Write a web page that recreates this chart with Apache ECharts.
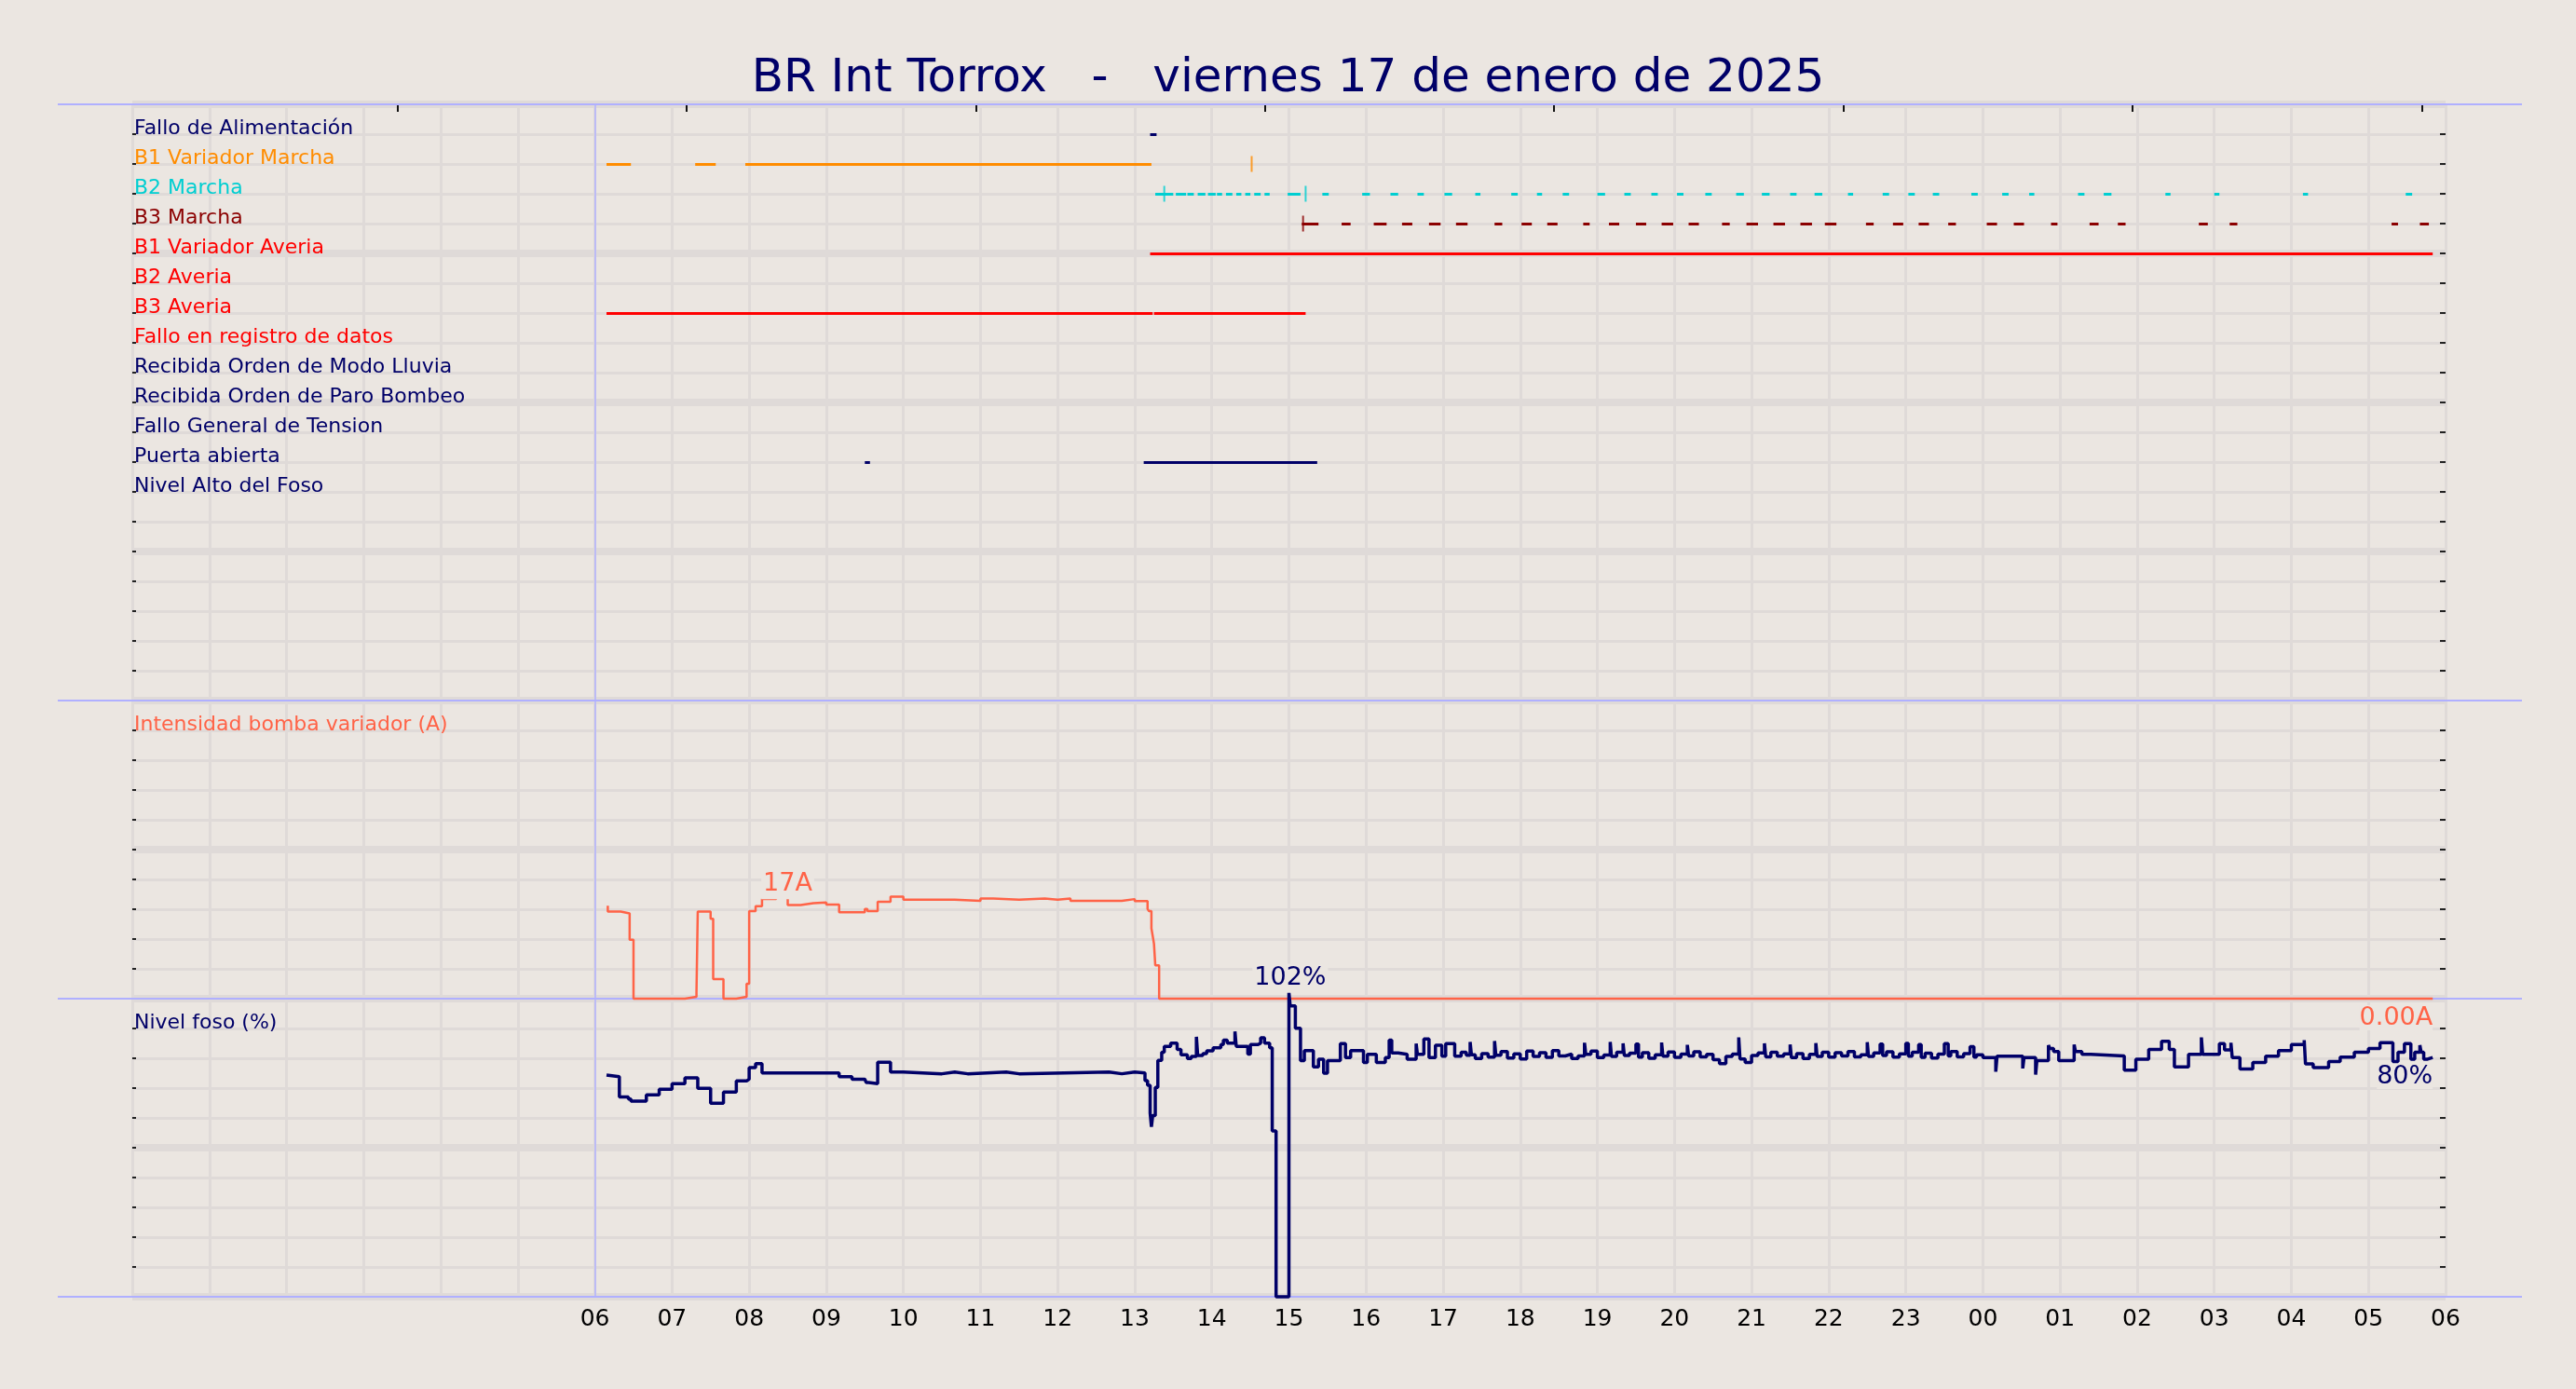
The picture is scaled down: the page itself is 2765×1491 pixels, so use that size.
<!DOCTYPE html>
<html><head><meta charset="utf-8">
<script src="https://cdn.jsdelivr.net/npm/echarts@6/dist/echarts.min.js"></script>
<style>html,body{margin:0;padding:0;background:#ebe6e1;}#c{width:2765px;height:1491px;}</style>
</head><body><div id="c"></div>
<script>
// ---------------- DATA ----------------
const titleText = 'BR Int Torrox   -   viernes 17 de enero de 2025';
const rowNames = ['Fallo de Alimentación','B1 Variador Marcha','B2 Marcha','B3 Marcha','B1 Variador Averia','B2 Averia','B3 Averia','Fallo en registro de datos','Recibida Orden de Modo Lluvia','Recibida Orden de Paro Bombeo','Fallo General de Tension','Puerta abierta','Nivel Alto del Foso'];
const intensityName = 'Intensidad bomba variador (A)';
const levelName = 'Nivel foso (%)';
const xTickLabels = ['06','07','08','09','10','11','12','13','14','15','16','17','18','19','20','21','22','23','00','01','02','03','04','05','06'];
const topTickHours = [3.44, 7.19, 10.94, 14.69, 18.44, 22.19, 25.94, 29.69];
const dayStart = '06:00';

const segAlimentacion = [['13:12','13:17']];
const segB1Marcha = [['06:09','06:28'],['07:18','07:34'],['07:57','13:13']];
const tickB1Marcha = ['14:31'];
const segB2Marcha = [['13:16','13:30'],['13:32','13:40'],['13:41','13:46'],['13:49','13:55'],['13:57','14:03'],['14:04','14:08'],['14:11','14:16'],['14:19','14:23'],['14:26','14:30'],['14:33','14:38'],['14:41','14:45'],['14:59','15:09'],['15:26','15:31'],['15:57','16:03'],['16:19','16:25'],['16:40','16:45'],['17:01','17:07'],['17:25','17:29'],['17:53','17:58'],['18:13','18:17'],['18:33','18:38'],['19:00','19:06'],['19:21','19:26'],['19:42','19:47'],['20:02','20:07'],['20:24','20:29'],['20:48','20:54'],['21:08','21:14'],['21:30','21:35'],['21:49','21:55'],['22:15','22:19'],['22:42','22:47'],['23:02','23:07'],['23:21','23:26'],['23:51','23:56'],['00:15','00:20'],['00:36','00:40'],['01:14','01:19'],['01:34','01:40'],['02:22','02:26'],['03:00','03:04'],['04:09','04:13'],['05:29','05:34']];
const tickB2Marcha = ['13:23','15:13'];
const segB3Marcha = [['15:10','15:23'],['15:41','15:48'],['16:06','16:16'],['16:28','16:36'],['16:49','16:58'],['17:10','17:19'],['17:40','17:46'],['18:01','18:09'],['18:21','18:29'],['18:49','18:54'],['19:09','19:17'],['19:30','19:38'],['19:50','19:59'],['20:11','20:19'],['20:37','20:43'],['20:56','21:05'],['21:17','21:26'],['21:38','21:47'],['21:57','22:06'],['22:29','22:35'],['22:50','22:58'],['23:10','23:18'],['23:33','23:39'],['00:03','00:11'],['00:24','00:32'],['00:53','00:58'],['01:23','01:30'],['01:45','01:51'],['02:48','02:55'],['03:12','03:18'],['05:18','05:23'],['05:40','05:47']];
const tickB3Marcha = ['15:11'];
const segB1Averia = [['13:12','05:50']];
const segB3Averia = [['06:09','13:14'],['13:15','15:13']];
const segPuerta = [['09:30','09:34'],['13:07','15:22']];

// intensity (A): [time, value over interval ending at time]
const intensityData = [['06:10',15.6],['06:20',14.6],['06:27',14.3],['06:30',9.9],['07:10',0],['07:19',0.3],['07:20',1.0],['07:30',14.6],['07:32',13.4],['07:40',3.3],['07:50',0],['07:58',0.3],['08:00',2.5],['08:05',14.7],['08:10',15.5],['08:21',16.7],['08:30',17.3],['08:40',15.7],['08:50',16.0],['09:00',16.15],['09:10',15.8],['09:30',14.5],['09:32',15.05],['09:40',14.7],['09:50',16.25],['10:00',17.1],['10:40',16.6],['11:00',16.4],['11:10',16.8],['11:30',16.6],['11:50',16.8],['12:00',16.6],['12:10',16.8],['12:50',16.4],['13:00',16.7],['13:10',16.35],['13:11',15.05],['13:13',14.7],['13:14',11.8],['13:15',10.5],['13:16',9.2],['13:19',5.6],['05:50',0]];

// level (%): [time, value over interval ending at time]
const levelDay = [['06:09',74.4],['06:19',73.8],['06:26',67.0],['06:28',66.3],['06:40',65.6],['06:50',67.7],['07:00',69.6],['07:10',71.5],['07:20',73.4],['07:30',69.9],['07:40',64.9],['07:50',68.7],['07:58',72.4],['08:00',73.0],['08:05',76.9],['08:10',78.2],['09:10',75.1],['09:20',73.8],['09:30',73.0],['09:31',72.5],['09:33',71.9],['09:40',71.5],['09:50',78.7],['10:00',75.4],['10:30',74.8],['10:40',75.4],['10:50',74.8],['11:20',75.4],['11:30',74.8],['12:40',75.4],['12:50',74.8],['13:00',75.4],['13:08',75.1],['13:10',72.5],['13:12',70.9],['13:13',61.6],['13:14',57.0],['13:16',60.8],['13:18',70.2],['13:21',79.3],['13:23',82.0],['13:28',84.0],['13:33',85.1],['13:36',83.0],['13:41',81.2],['13:44',79.9],['13:48',80.6],['13:49',87.2],['13:53',80.9],['13:56',81.6],['14:01',82.5],['14:07',83.5],['14:09',84.6],['14:12',86.1],['14:18',85.1],['14:19',89.0],['14:28',84.0],['14:30',81.4],['14:36',84.6],['14:38',85.1],['14:41',86.9],['14:45',85.1],['14:47',83.5],['14:50',55.6],['15:00',0],['15:01',102],['15:05',97.6],['15:09',90.1],['15:12',79.2],['15:19',82.6],['15:23',77.1],['15:27',79.7],['15:30',75.0],['15:40',79.2],['15:44',84.9],['15:48',80.2],['15:58',82.6],['16:01',78.6],['16:08',81.3],['16:15',78.6],['16:18',80.2],['16:20',86.1],['16:25',81.8],['16:32',81.3],['16:39',79.7],['16:40',84.9],['16:45',81.3],['16:49',86.5],['16:54',80.2],['16:59',84.4],['17:02',80.7],['17:09',84.9]];
const levelEvening = [['17:14',80.7],['17:18',82.0],['17:21',81.0],['17:22',85.5],['17:25',81.2],['17:30',79.9],['17:35',81.6],['17:40',80.4],['17:41',85.8],['17:45',81.0],['17:50',82.3],['17:55',80.1],['18:00',81.5],['18:05',79.8],['18:10',82.4],['18:15',80.6],['18:20',81.9],['18:25',80.3],['18:30',82.6],['18:35',80.8],['18:40',81.4],['18:45',79.9],['18:50',80.8],['18:51',85.2],['18:55',81.3],['19:00',82.4],['19:05',80.2],['19:10',81.1],['19:11',85.5],['19:15',80.6],['19:20',82.0],['19:21',85.0],['19:25',80.9],['19:30',81.7],['19:32',84.8],['19:35',80.4],['19:40',81.9],['19:45',80.0],['19:50',81.2],['19:51',85.3],['19:55',80.7],['20:00',82.1],['20:05',80.3],['20:10',81.4],['20:11',84.5],['20:15',80.8],['20:20',82.2],['20:25',80.5],['20:30',81.3],['20:35',79.5],['20:40',78.2],['20:45',80.6],['20:50',81.4],['20:51',87.0],['20:55',79.8],['21:00',78.6],['21:05',80.9],['21:10',81.8],['21:11',85.0],['21:15',80.5],['21:20',82.0],['21:25',80.7],['21:30',81.5],['21:31',84.6],['21:35',80.2],['21:40',81.6],['21:45',79.9],['21:50',81.3],['21:51',85.1],['21:55',80.6],['22:00',82.0],['22:05',80.4],['22:10',81.9],['22:15',80.8],['22:20',82.3],['22:25',80.5],['22:30',81.2],['22:31',85.4],['22:35',80.6],['22:40',81.8],['22:42',84.8],['22:45',80.9],['22:50',82.2],['22:55',80.4],['23:00',81.5],['23:02',85.0],['23:05',80.7],['23:10',82.0],['23:12',84.6],['23:15',80.3],['23:20',81.7],['23:25',80.1],['23:30',81.4],['23:33',84.9],['23:35',80.8],['23:40',82.3],['23:45',80.5],['23:50',81.6],['23:53',83.9],['23:55',80.4],['00:00',81.2]];
const levelNight = [['00:10',80.2],['00:11',75.5],['00:31',80.7],['00:32',76.6],['00:41',80.2],['00:42',74.5],['00:51',79.2],['00:52',84.4],['00:55',83.3],['00:59',82.3],['01:11',79.2],['01:12',84.6],['01:17',82.3],['01:24',81.3],['01:50',80.8],['01:59',76.0],['02:09',79.7],['02:19',83.0],['02:25',85.7],['02:29',83.0],['02:40',77.1],['02:50',81.3],['02:51',87.0],['03:04',81.3],['03:08',84.9],['03:13',82.8],['03:14',85.2],['03:20',80.2],['03:30',76.4],['03:40',78.6],['03:50',80.7],['04:00',82.6],['04:10',84.6],['04:11',86.1],['04:17',78.1],['04:29',76.9],['04:38',78.9],['04:49',80.4],['05:00',82.0],['05:09',83.3],['05:19',85.2],['05:23',78.9],['05:28',82.0],['05:33',84.9],['05:36',79.7],['05:40',82.0],['05:41',84.4],['05:43',82.0],['05:46',79.7],['05:50',80.3]];

// ---------------- STYLE ----------------
const BG = '#ebe6e1', GRIDC = '#dfdad8', NAVY = '#000068', TOMATO = '#ff6347', SEP = '#b0b0ff';
const FONT = 'DejaVu Sans';
const rowColors = [NAVY,'#ff8c00','#00ced1','#8b0000','#ff0000','#ff0000','#ff0000','#ff0000',NAVY,NAVY,NAVY,NAVY,NAVY];
const signals = [
  {row:0, segs:segAlimentacion, ticks:[]},
  {row:1, segs:segB1Marcha, ticks:tickB1Marcha},
  {row:2, segs:segB2Marcha, ticks:tickB2Marcha},
  {row:3, segs:segB3Marcha, ticks:tickB3Marcha},
  {row:4, segs:segB1Averia, ticks:[]},
  {row:6, segs:segB3Averia, ticks:[]},
  {row:11, segs:segPuerta, ticks:[]}
];

function toH(s){ const p = s.split(':').map(Number); let v = p[0] + p[1]/60; if (v < 6) v += 24; return v; }

const L = 142, R = 140, PW = 2765 - L - R;
const grids = [
  {left:L, right:R, top:112, height:640, outerBoundsMode:'none'},
  {left:L, right:R, top:752, height:320, outerBoundsMode:'none'},
  {left:L, right:R, top:1072, height:320, outerBoundsMode:'none'},
  {left:L, right:R, top:1040, height:352, outerBoundsMode:'none'}   // overlay for level line (room for >100%)
];
const yRanges = [{min:0,max:20,step:1,inverse:true},{min:0,max:50,step:5},{min:0,max:100,step:10}];

const xAxes = [0,1,2].map(i=>({
  type:'value', gridIndex:i, min:0, max:30, interval:1,
  axisLine:{show:false}, axisTick:{show:false},
  axisLabel: i===2 ? {show:true, fontFamily:FONT, fontSize:25, color:'#000', margin:12,
      formatter:(v)=> (v>=6 && Number.isInteger(v)) ? (xTickLabels[v-6]||'') : ''} : {show:false},
  splitLine:{show:true, lineStyle:{color:GRIDC, width:3}}
}));
xAxes.push({type:'value', gridIndex:0, position:'top', min:0, max:30,
  axisLine:{show:false}, axisLabel:{show:false}, splitLine:{show:false},
  axisTick:{show:true, inside:true, length:8, customValues:topTickHours, lineStyle:{color:'#111', width:2}}});
xAxes.push({type:'value', gridIndex:3, min:0, max:30, show:false});

const yAxes = [];
yRanges.forEach((r,i)=>{
  const base = {type:'value', gridIndex:i, min:r.min, max:r.max, inverse:!!r.inverse, axisLine:{show:false}};
  let fmt, col;
  if (i===0){ fmt = v => rowNames[Math.round(v)-1] || ''; col = v => rowColors[Math.round(Number(v))-1] || NAVY; }
  else if (i===1){ fmt = v => v===45 ? intensityName : ''; col = TOMATO; }
  else { fmt = v => v===90 ? levelName : ''; col = NAVY; }
  // A: labels + thin split lines
  yAxes.push(Object.assign({}, base, {position:'left', interval:r.step, axisTick:{show:false},
    axisLabel:{show:true, inside:true, margin:2, verticalAlign:'bottom', lineHeight:11, fontFamily:FONT, fontSize:22, color:col, formatter:fmt},
    splitLine:{show:true, lineStyle:{color:GRIDC, width:3}}}));
  // B: ticks on the right edge, pointing into the plot
  yAxes.push(Object.assign({}, base, {position:'left', offset:-PW, interval:r.step,
    axisTick:{show:true, inside:false, length:6, lineStyle:{color:'#222', width:2}},
    axisLabel:{show:false}, splitLine:{show:false}}));
  // C: thick split lines every 5 units
  yAxes.push(Object.assign({}, base, {position:'left', interval:r.step*5,
    axisTick:{show:false}, axisLabel:{show:false},
    splitLine:{show:true, lineStyle:{color:GRIDC, width:8}}}));
  // D: ticks on the left edge, pointing into the plot
  yAxes.push(Object.assign({}, base, {position:'right', offset:-PW, interval:r.step,
    axisTick:{show:true, inside:false, length:4, lineStyle:{color:'#222', width:2}},
    axisLabel:{show:false}, splitLine:{show:false}}));
});
yAxes.push({type:'value', gridIndex:3, min:0, max:110, show:false});

const dayLine = {silent:true, symbol:'none', label:{show:false}, lineStyle:{color:SEP, width:1.5, type:'solid'}, data:[{xAxis: toH(dayStart)}]};

const series = [];
signals.forEach(s=>{
  series.push({type:'lines', coordinateSystem:'cartesian2d', xAxisIndex:0, yAxisIndex:0, polyline:false, silent:true, z:3,
    lineStyle:{color:rowColors[s.row], width:3, opacity:1, curveness:0, cap:'butt'},
    data: s.segs.map(p=>({coords:[[toH(p[0]), s.row+1],[toH(p[1]), s.row+1]]}))});
  if (s.ticks.length) series.push({type:'scatter', xAxisIndex:0, yAxisIndex:0, symbol:'rect', symbolSize:[2,17], silent:true, z:4,
    itemStyle:{color:rowColors[s.row]}, data: s.ticks.map(t=>[toH(t), s.row+1])});
});
series.push({type:'scatter', xAxisIndex:0, yAxisIndex:0, data:[], symbolSize:0, markLine:dayLine});
series.push({type:'scatter', xAxisIndex:2, yAxisIndex:8, data:[], symbolSize:0, markLine:dayLine});

const intSeries = intensityData.map(d=>[toH(d[0]), d[1]]);
const lastInt = intSeries[intSeries.length-1];
series.push({type:'line', xAxisIndex:1, yAxisIndex:4, step:'start', showSymbol:false, clip:false, silent:true, z:3,
  lineStyle:{color:TOMATO, width:2.5}, data:intSeries, markLine:dayLine,
  markPoint:{symbol:'circle', symbolSize:0, silent:true,
    label:{show:true, fontFamily:FONT, fontSize:27, color:TOMATO, backgroundColor:BG},
    data:[
      {type:'max', valueDim:'y', label:{position:'top', distance:0, offset:[0,4], padding:[2,2,3,2], formatter:p=>Math.round(p.value)+'A'}},
      {coord:lastInt, value:lastInt[1], label:{position:'bottom', distance:7, align:'right', padding:[0,0,0,0], formatter:p=>Number(p.value).toFixed(2)+'A'}}
    ]}});

const levelData = levelDay.concat(levelEvening, levelNight);
const lvlSeries = levelData.map(d=>[toH(d[0]), d[1]]);
const lastLvl = lvlSeries[lvlSeries.length-1];
series.push({type:'line', xAxisIndex:4, yAxisIndex:12, step:'start', showSymbol:false, clip:false, silent:true, z:3,
  lineStyle:{color:NAVY, width:3.5}, data:lvlSeries,
  markPoint:{symbol:'circle', symbolSize:0, silent:true,
    label:{show:true, fontFamily:FONT, fontSize:27, color:NAVY, backgroundColor:BG},
    data:[
      {type:'max', valueDim:'y', label:{position:'top', distance:0, padding:[2,2,2,2], formatter:p=>Math.round(p.value)+'%'}},
      {coord:lastLvl, value:lastLvl[1], label:{position:'bottom', distance:7, align:'right', padding:[0,0,0,0], formatter:p=>Math.round(p.value)+'%'}}
    ]}});

const sepYs = [112, 752, 1072, 1392];
const graphic = sepYs.map(y=>({type:'line', z:1, silent:true, shape:{x1:62, y1:y, x2:2707, y2:y}, style:{stroke:SEP, lineWidth:2}}));

const chart = echarts.init(document.getElementById('c'), null, {width:2765, height:1491, renderer:'canvas'});
chart.setOption({
  backgroundColor: BG,
  animation:false,
  textStyle:{fontFamily:FONT},
  title:{text:titleText, left:'center', top:55, textStyle:{fontFamily:FONT, fontSize:50, fontWeight:'normal', color:NAVY}},
  grid: grids, xAxis: xAxes, yAxis: yAxes, series: series, graphic: graphic
});
</script></body></html>
